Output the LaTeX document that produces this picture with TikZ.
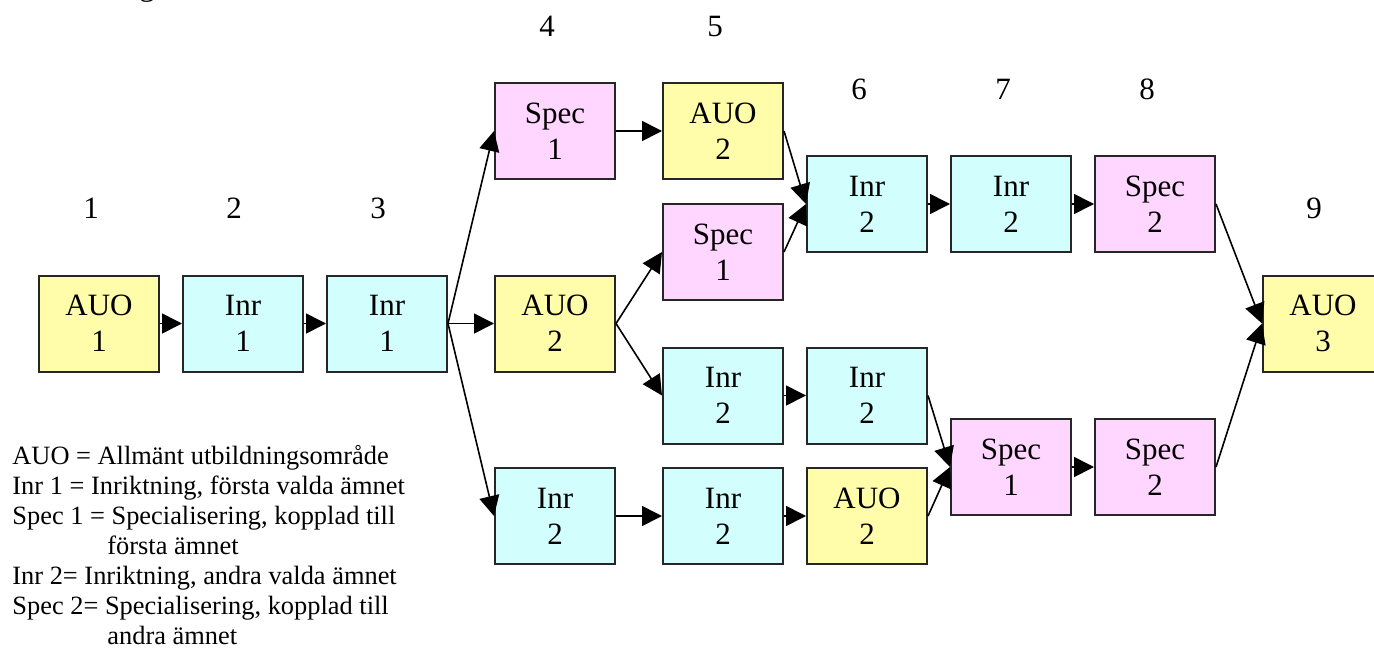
\documentclass[tikz,border=0pt]{standalone}
\usepackage{fontspec}
\setmainfont{Liberation Serif}
\usetikzlibrary{arrows.meta}
\definecolor{auoyellow}{HTML}{FFFCAA}
\definecolor{inrcyan}{HTML}{D2FEFE}
\definecolor{specpink}{HTML}{FFD6FF}
\begin{document}
\begin{tikzpicture}[x=0.5pt,y=-0.5pt,
  boxnode/.style={draw=black!85, line width=1pt, minimum width=60pt, minimum height=48pt,
    inner sep=0pt, align=center, font=\fontsize{15.5}{18}\selectfont},
  auo/.style={boxnode, fill=auoyellow},
  inr/.style={boxnode, fill=inrcyan},
  spec/.style={boxnode, fill=specpink},
  numlabel/.style={anchor=base, inner sep=0pt, font=\fontsize{15.5}{18}\selectfont},
  legendtext/.style={anchor=base west, inner sep=0pt, font=\fontsize{13.2}{15}\selectfont},
  arr/.style={-{Triangle[length=10pt,width=10pt]}, line width=0.8pt}]
\useasboundingbox (0,0) rectangle (1374,647);
% cut-off title remnant
\node[anchor=base, inner sep=0pt, font=\fontsize{16}{18}\selectfont] (title) at (147,-4) {g};
% column numbers
\node[numlabel] (n1) at (91,218) {1};
\node[numlabel] (n2) at (234,218) {2};
\node[numlabel] (n3) at (378,218) {3};
\node[numlabel] (n4) at (547,37) {4};
\node[numlabel] (n5) at (715,37) {5};
\node[numlabel] (n6) at (859,99) {6};
\node[numlabel] (n7) at (1003,99) {7};
\node[numlabel] (n8) at (1147,99) {8};
\node[numlabel] (n9) at (1314,218) {9};
% boxes
\node[auo] (auo1) at (99,323.5) {AUO\\1};
\node[inr] (inr1a) at (243,323.5) {Inr\\1};
\node[inr] (inr1b) at (387,323.5) {Inr\\1};
\node[spec] (spec1a) at (555,131) {Spec\\1};
\node[auo] (auo2a) at (723,131) {AUO\\2};
\node[auo] (auo2b) at (555,323.5) {AUO\\2};
\node[spec] (spec1b) at (723,252) {Spec\\1};
\node[inr] (inr2a) at (867,204) {Inr\\2};
\node[inr] (inr2b) at (1011,204) {Inr\\2};
\node[spec] (spec2a) at (1155,204) {Spec\\2};
\node[inr] (inr2c) at (723,395.5) {Inr\\2};
\node[inr] (inr2d) at (867,395.5) {Inr\\2};
\node[spec] (spec1c) at (1011,467) {Spec\\1};
\node[spec] (spec2b) at (1155,467) {Spec\\2};
\node[inr] (inr2e) at (555,516) {Inr\\2};
\node[inr] (inr2f) at (723,516) {Inr\\2};
\node[auo] (auo2c) at (867,516) {AUO\\2};
\node[auo] (auo3) at (1323,323.5) {AUO\\3};
% arrows
\draw[arr] (auo1.east) -- (inr1a.west);
\draw[arr] (inr1a.east) -- (inr1b.west);
\draw[arr] (inr1b.east) -- (spec1a.west);
\draw[arr] (inr1b.east) -- (auo2b.west);
\draw[arr] (inr1b.east) -- (inr2e.west);
\draw[arr] (spec1a.east) -- (auo2a.west);
\draw[arr] (auo2b.east) -- (spec1b.west);
\draw[arr] (auo2b.east) -- (inr2c.west);
\draw[arr] (auo2a.east) -- (inr2a.west);
\draw[arr] (spec1b.east) -- (inr2a.west);
\draw[arr] (inr2a.east) -- (inr2b.west);
\draw[arr] (inr2b.east) -- (spec2a.west);
\draw[arr] (spec2a.east) -- (auo3.west);
\draw[arr] (inr2c.east) -- (inr2d.west);
\draw[arr] (inr2d.east) -- (spec1c.west);
\draw[arr] (inr2e.east) -- (inr2f.west);
\draw[arr] (inr2f.east) -- (auo2c.west);
\draw[arr] (auo2c.east) -- (spec1c.west);
\draw[arr] (spec1c.east) -- (spec2b.west);
\draw[arr] (spec2b.east) -- (auo3.west);
% legend
\node[legendtext] (l1) at (12,464) {AUO = Allmänt utbildningsområde};
\node[legendtext] (l2) at (12,494) {Inr 1 = Inriktning, första valda ämnet};
\node[legendtext] (l3) at (12,524) {Spec 1 = Specialisering, kopplad till};
\node[legendtext] (l4) at (107,554) {första ämnet};
\node[legendtext] (l5) at (12,584) {Inr 2= Inriktning, andra valda ämnet};
\node[legendtext] (l6) at (12,614) {Spec 2= Specialisering, kopplad till};
\node[legendtext] (l7) at (107,644) {andra ämnet};
\end{tikzpicture}
\end{document}
